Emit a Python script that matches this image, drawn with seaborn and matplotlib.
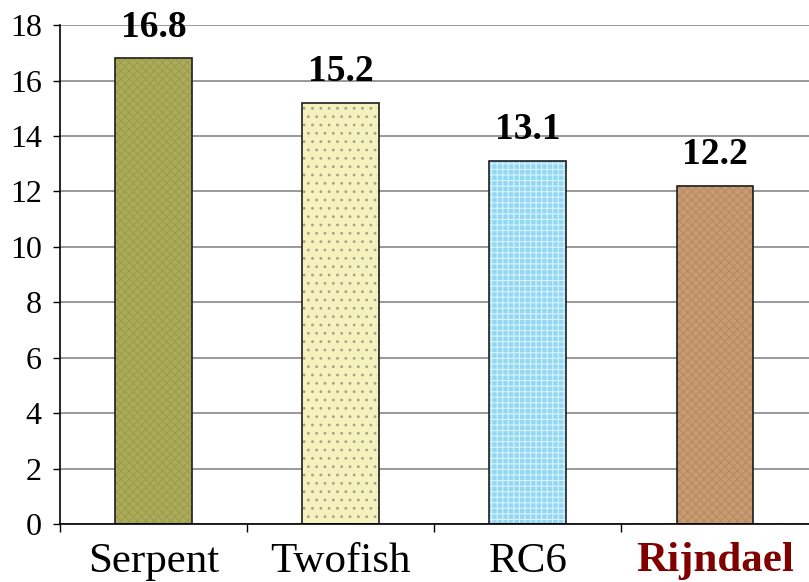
import numpy as np
import pandas as pd
import matplotlib
matplotlib.use("Agg")
import matplotlib.pyplot as plt
import seaborn as sns

# -------------------------
# Data
# -------------------------
ciphers = ["Serpent", "Twofish", "RC6", "Rijndael"]
values = [16.8, 15.2, 13.1, 12.2]
colors = ["#ABAB5A", "#F6F2BE", "#93D8F2", "#C99B72"]
hatch_colors = ["#9C9C4C", "#A4A488", "#D8F2FC", "#B98A60"]
hatches = ["xxxx", "..", "+++", "xxxx"]

df = pd.DataFrame({"Cipher": ciphers, "Value": values})

sns.set_style("white")
plt.rcParams["font.family"] = ["Liberation Serif", "DejaVu Serif"]
plt.rcParams["hatch.linewidth"] = 0.8

fig = plt.figure(figsize=(8.09, 5.82), dpi=100)
ax = fig.add_axes([0.074, 0.0997, 0.93, 0.857])

sns.barplot(data=df, x="Cipher", y="Value", hue="Cipher", palette=colors,
            saturation=1, width=0.41, legend=False, ax=ax,
            edgecolor="#1E1E1E", linewidth=1.2)

for bar, h, hc in zip(ax.patches, hatches, hatch_colors):
    bar.set_hatch(h)
    bar._hatch_color = matplotlib.colors.to_rgba(hc)

# value labels
for i, v in enumerate(values):
    ax.text(i, v + 0.5, f"{v:.1f}", ha="center", va="bottom",
            fontsize=27, fontweight="bold", color="black")

ax.set_ylim(0, 18)
ax.set_xlim(-0.5, 3.52)
ax.set_yticks(range(0, 19, 2))
ax.yaxis.grid(True, color="#888888", linewidth=1.2)
ax.set_axisbelow(True)
ax.set_xlabel("")
ax.set_ylabel("")

# category boundary ticks on x
ax.set_xticks([0, 1, 2, 3])
ax.set_xticks([-0.5, 0.5, 1.5, 2.5], minor=True)
ax.tick_params(axis="x", which="major", length=0, labelsize=31, pad=13, labelcolor="black")
ax.tick_params(axis="x", which="minor", length=6, width=1, color="black", direction="out", bottom=True)
ax.tick_params(axis="y", length=5, width=1, color="black", direction="out", labelsize=23,
               left=True, labelcolor="black", pad=8)

for s in ["top", "right"]:
    ax.spines[s].set_visible(False)
for s in ["left", "bottom"]:
    ax.spines[s].set_color("black")
    ax.spines[s].set_linewidth(1.2)

labels = ax.get_xticklabels()
labels[3].set_color("#800000")
labels[3].set_fontweight("bold")

fig.savefig("out.png", dpi=100)
